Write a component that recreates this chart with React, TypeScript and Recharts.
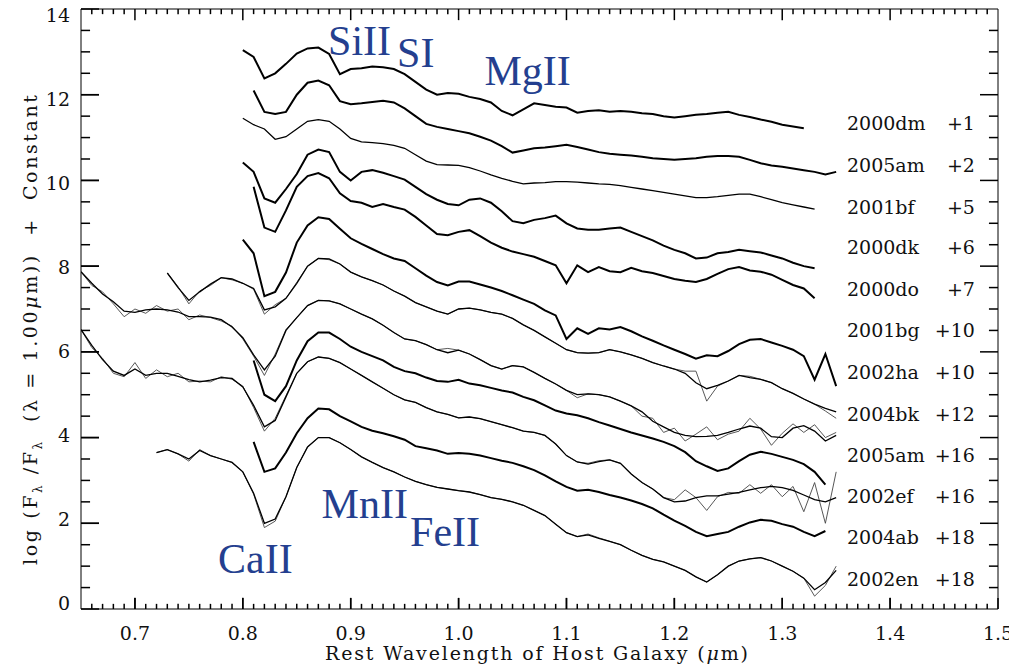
import { LineChart, Line, XAxis, YAxis, ReferenceDot, ReferenceLine, Label } from "recharts";

// wavelength grid in micron, every spectrum below is sampled on it
const WAVE = [
  0.65, 0.66, 0.67, 0.68, 0.69, 0.7, 0.71, 0.72, 0.73, 0.74, 0.75, 0.76, 0.77, 0.78, 0.79,
  0.8, 0.81, 0.82, 0.83, 0.84, 0.85, 0.86, 0.87, 0.88, 0.89, 0.9, 0.91, 0.92, 0.93, 0.94,
  0.95, 0.96, 0.97, 0.98, 0.99, 1.0, 1.01, 1.02, 1.03, 1.04, 1.05, 1.06, 1.07, 1.08, 1.09,
  1.1, 1.11, 1.12, 1.13, 1.14, 1.15, 1.16, 1.17, 1.18, 1.19, 1.2, 1.21, 1.22, 1.23, 1.24,
  1.25, 1.26, 1.27, 1.28, 1.29, 1.3, 1.31, 1.32, 1.33, 1.34, 1.35,
];

// log(F / F(1.00um)) + constant, starting at the wavelength given in SPECTRA
const SN2000DM = [
  13.04, 12.88, 12.38, 12.5, 12.72, 12.96, 13.08, 13.1, 12.95, 12.48,
  12.6, 12.62, 12.66, 12.64, 12.6, 12.48, 12.3, 12.12, 12.0, 12.04,
  12.02, 11.95, 11.9, 11.82, 11.62, 11.52, 11.66, 11.8, 11.76, 11.72,
  11.7, 11.58, 11.62, 11.64, 11.6, 11.62, 11.6, 11.57, 11.55, 11.5,
  11.47, 11.5, 11.53, 11.55, 11.58, 11.6, 11.53, 11.48, 11.42, 11.37,
  11.3, 11.26, 11.22,
];
const SN2005AM_2 = [
  12.1, 11.6, 11.55, 11.6, 12.0, 12.28, 12.33, 12.22, 11.85,
  11.78, 11.8, 11.83, 11.86, 11.82, 11.68, 11.5, 11.32, 11.25, 11.2,
  11.15, 11.1, 11.02, 10.93, 10.8, 10.65, 10.7, 10.75, 10.77, 10.8,
  10.83, 10.78, 10.72, 10.66, 10.62, 10.6, 10.58, 10.55, 10.52, 10.5,
  10.48, 10.5, 10.52, 10.55, 10.57, 10.57, 10.55, 10.48, 10.4, 10.35,
  10.32, 10.28, 10.24, 10.2, 10.14, 10.2,
];
const SN2001BF = [
  11.45, 11.3, 11.2, 10.96, 11.02, 11.2, 11.38, 11.42, 11.38, 11.2,
  10.98, 10.9, 10.88, 10.86, 10.82, 10.75, 10.6, 10.45, 10.37, 10.36,
  10.35, 10.3, 10.22, 10.13, 10.05, 9.98, 9.92, 9.94, 9.95, 9.97,
  9.97, 9.96, 9.94, 9.92, 9.91, 9.88, 9.84, 9.8, 9.76, 9.72,
  9.68, 9.64, 9.6, 9.6, 9.62, 9.65, 9.68, 9.68, 9.62, 9.55,
  9.48, 9.43, 9.38, 9.33,
];
const SN2000DK = [
  10.42, 10.2, 9.58, 9.48, 9.8, 10.15, 10.6, 10.72, 10.66, 10.2,
  10.0, 10.2, 10.24, 10.18, 10.1, 10.02, 9.85, 9.68, 9.55, 9.45,
  9.42, 9.55, 9.58, 9.48, 9.28, 9.05, 9.0, 9.08, 9.12, 9.18,
  9.0, 8.88, 8.85, 8.85, 8.88, 8.9, 8.8, 8.7, 8.6, 8.48,
  8.38, 8.3, 8.18, 8.2, 8.3, 8.33, 8.38, 8.35, 8.32, 8.25,
  8.18, 8.08, 8.0, 7.95,
];
const SN2000DO = [
  9.85, 8.9, 8.8, 9.3, 9.85, 10.1, 10.17, 10.05, 9.7,
  9.52, 9.48, 9.38, 9.45, 9.38, 9.32, 9.15, 8.95, 8.75, 8.72,
  8.8, 8.84, 8.7, 8.55, 8.43, 8.34, 8.28, 8.22, 8.12, 8.02,
  7.6, 8.02, 7.86, 7.98, 7.88, 7.86, 7.96, 7.88, 7.84, 7.77,
  7.7, 7.66, 7.63, 7.7, 7.82, 7.93, 7.98, 7.9, 7.87, 7.8,
  7.68, 7.56, 7.48, 7.25,
];
const SN2001BG = [
  8.62, 8.3, 7.3, 7.4, 7.85, 8.55, 8.95, 9.14, 9.1, 8.87,
  8.65, 8.52, 8.4, 8.28, 8.18, 8.12, 7.95, 7.78, 7.63, 7.55,
  7.64, 7.64, 7.57, 7.5, 7.42, 7.32, 7.22, 7.12, 6.97, 6.85,
  6.3, 6.55, 6.42, 6.55, 6.52, 6.58, 6.48, 6.36, 6.26, 6.15,
  6.05, 5.95, 5.84, 5.92, 5.9, 6.02, 6.18, 6.28, 6.3, 6.22,
  6.14, 6.05, 5.9, 5.35, 5.95, 5.2,
];
const SN2002HA = [
  7.84, 7.5, 7.2, 7.4, 7.58, 7.73, 7.7,
  7.6, 7.48, 6.98, 7.05, 7.25, 7.6, 8.0, 8.18, 8.17, 8.05,
  7.86, 7.75, 7.66, 7.56, 7.42, 7.3, 7.15, 7.05, 6.95, 6.88,
  7.0, 7.02, 6.98, 6.92, 6.88, 6.78, 6.63, 6.5, 6.35, 6.2,
  6.05, 5.98, 5.97, 5.98, 6.05, 6.0, 5.93, 5.85, 5.75, 5.67,
  5.6, 5.5, 5.28, 5.14, 5.22, 5.32, 5.45, 5.4, 5.36, 5.28,
  5.14, 5.03, 4.9, 4.78, 4.68, 4.6,
];
const SN2004BK = [
  7.87, 7.6, 7.35, 7.17, 6.95,
  6.92, 6.98, 7.0, 6.98, 6.93, 6.82, 6.82, 6.81, 6.75, 6.58,
  6.33, 5.93, 5.58, 5.9, 6.5, 6.8, 7.08, 7.2, 7.19, 7.12,
  7.0, 6.88, 6.77, 6.62, 6.45, 6.3, 6.26, 6.17, 6.05, 5.98,
  6.04, 5.95, 5.82, 5.68, 5.6, 5.68, 5.65, 5.52, 5.38, 5.25,
  5.1, 5.0, 5.02, 5.0, 4.95, 4.85, 4.74, 4.6, 4.38, 4.25,
  4.12, 4.05, 4.02, 4.03, 4.05, 4.12, 4.2, 4.27, 4.22, 4.02,
  4.0, 4.22, 4.28, 4.15, 3.92, 4.05,
];
const SN2005AM_16 = [
  5.8, 5.0, 4.85, 5.2, 5.8, 6.25, 6.45, 6.45, 6.3,
  6.12, 6.0, 5.9, 5.8, 5.65, 5.55, 5.5, 5.4, 5.32, 5.3,
  5.35, 5.26, 5.22, 5.16, 5.1, 5.05, 4.95, 4.87, 4.75, 4.63,
  4.56, 4.52, 4.45, 4.36, 4.28, 4.2, 4.12, 4.05, 3.98, 3.9,
  3.8, 3.66, 3.45, 3.33, 3.22, 3.28, 3.45, 3.6, 3.67, 3.62,
  3.55, 3.48, 3.38, 3.2, 2.9,
];
const SN2002EF = [
  6.52, 6.15, 5.82, 5.55, 5.45,
  5.6, 5.45, 5.5, 5.5, 5.43, 5.35, 5.3, 5.34, 5.4, 5.38,
  5.18, 4.75, 4.25, 4.4, 4.95, 5.5, 5.77, 5.88, 5.85, 5.75,
  5.6, 5.45, 5.3, 5.15, 5.0, 4.88, 4.82, 4.7, 4.6, 4.54,
  4.46, 4.48, 4.44, 4.37, 4.3, 4.23, 4.15, 4.12, 4.05, 3.85,
  3.58, 3.43, 3.38, 3.44, 3.48, 3.4, 3.15, 2.95, 2.8, 2.6,
  2.5, 2.52, 2.6, 2.64, 2.64, 2.68, 2.72, 2.78, 2.83, 2.86,
  2.83, 2.77, 2.66, 2.55, 2.5, 2.6,
];
const SN2004AB = [
  3.9, 3.2, 3.28, 3.65, 4.1, 4.45, 4.68, 4.66, 4.5,
  4.38, 4.25, 4.16, 4.1, 4.03, 3.95, 3.8, 3.75, 3.7, 3.62,
  3.64, 3.62, 3.58, 3.52, 3.46, 3.41, 3.33, 3.24, 3.12, 2.98,
  2.85, 2.76, 2.78, 2.73, 2.66, 2.6, 2.53, 2.45, 2.35, 2.2,
  2.06, 1.94, 1.8, 1.7, 1.75, 1.8, 1.92, 2.02, 2.08, 2.06,
  1.98, 1.92, 1.8, 1.7, 1.82,
];
const SN2002EN = [
  3.65, 3.72, 3.62, 3.5, 3.7, 3.58, 3.5, 3.42,
  3.2, 2.7, 2.0, 2.1, 2.62, 3.3, 3.78, 4.0, 4.0, 3.88,
  3.72, 3.55, 3.42, 3.3, 3.2, 3.08, 2.98, 2.9, 2.84, 2.8,
  2.76, 2.73, 2.67, 2.6, 2.56, 2.5, 2.42, 2.3, 2.18, 1.98,
  1.78, 1.69, 1.73, 1.65, 1.58, 1.5, 1.37, 1.25, 1.16, 1.1,
  1.0, 0.9, 0.75, 0.63, 0.8, 1.0, 1.12, 1.17, 1.2, 1.12,
  1.0, 0.88, 0.72, 0.45, 0.62, 0.9,
];

// coarser comparison spectra drawn as thin lines over the smooth ones
const FIT2002HA = [
  7.84, 7.52, 7.12, 7.42, 7.55, 7.73, 7.68,
  7.6, 7.46, 6.88, 7.1, 7.25, 7.62, 8.0, 8.18, 8.15, 8.05,
  7.86, 7.75, 7.66, 7.56, 7.42, 7.3, 7.15, 7.05, 6.95, 6.88,
  7.0, 7.02, 6.98, 6.92, 6.88, 6.78, 6.63, 6.5, 6.35, 6.2,
  6.05, 5.98, 5.97, 5.98, 6.05, 6.0, 5.93, 5.85, 5.75, 5.67,
  5.6, 5.55, 5.55, 4.85, 5.2, 5.32, 5.45, 5.43, 5.36, 5.28,
  5.14, 5.03, 4.9, 4.78, 4.62, 4.45,
];
const FIT2004BK = [
  7.87, 7.55, 7.4, 7.12, 6.82,
  7.0, 6.9, 7.08, 6.95, 7.0, 6.75, 6.86, 6.8, 6.72, 6.6,
  6.3, 5.9, 5.45, 5.95, 6.52, 6.8, 7.08, 7.2, 7.19, 7.12,
  7.0, 6.88, 6.77, 6.62, 6.45, 6.3, 6.26, 6.17, 6.05, 6.08,
  6.04, 5.95, 5.82, 5.68, 5.6, 5.68, 5.65, 5.52, 5.38, 5.25,
  5.1, 4.93, 5.02, 5.0, 4.95, 4.85, 4.74, 4.5, 4.45, 4.12,
  4.22, 3.92, 4.08, 4.25, 3.95, 4.08, 4.15, 4.45, 4.2, 3.82,
  4.1, 4.32, 4.12, 4.3, 4.0, 4.12,
];
const FIT2002EF = [
  6.52, 6.1, 5.85, 5.5, 5.42,
  5.75, 5.38, 5.58, 5.42, 5.5, 5.3, 5.32, 5.3, 5.42, 5.36,
  5.2, 4.7, 4.15, 4.45, 4.98, 5.5, 5.77, 5.88, 5.85, 5.75,
  5.6, 5.45, 5.3, 5.15, 5.0, 4.88, 4.82, 4.7, 4.6, 4.54,
  4.46, 4.48, 4.44, 4.37, 4.3, 4.23, 4.15, 4.12, 4.05, 3.85,
  3.58, 3.43, 3.4, 3.46, 3.48, 3.4, 3.15, 2.95, 2.8, 2.6,
  2.55, 2.78, 2.6, 2.3, 2.62, 2.72, 2.7, 2.9, 2.7, 2.9,
  2.62, 2.86, 2.27, 2.95, 2.0, 3.2,
];
const FIT2002EN = [
  3.65, 3.72, 3.62, 3.45, 3.72, 3.58, 3.5, 3.42,
  3.2, 2.68, 1.9, 2.05, 2.62, 3.3, 3.78, 4.0, 4.0, 3.88,
  3.72, 3.55, 3.42, 3.3, 3.2, 3.08, 2.98, 2.9, 2.84, 2.8,
  2.76, 2.73, 2.67, 2.6, 2.56, 2.5, 2.42, 2.3, 2.18, 1.98,
  1.78, 1.69, 1.75, 1.66, 1.58, 1.5, 1.37, 1.25, 1.16, 1.1,
  1.0, 0.9, 0.75, 0.63, 0.8, 1.0, 1.12, 1.17, 1.2, 1.12,
  1.0, 0.88, 0.72, 0.3, 0.55, 1.0,
];

const SPECTRA = [
  { name: "2000dm", phase: "+1", from: 0.8, flux: SN2000DM, noisy: true },
  { name: "2005am", phase: "+2", from: 0.81, flux: SN2005AM_2, noisy: true },
  { name: "2001bf", phase: "+5", from: 0.8, flux: SN2001BF, noisy: false },
  { name: "2000dk", phase: "+6", from: 0.8, flux: SN2000DK, noisy: true },
  { name: "2000do", phase: "+7", from: 0.81, flux: SN2000DO, noisy: true },
  { name: "2001bg", phase: "+10", from: 0.8, flux: SN2001BG, noisy: true },
  { name: "2002ha", phase: "+10", from: 0.73, flux: SN2002HA, noisy: false },
  { name: "2004bk", phase: "+12", from: 0.65, flux: SN2004BK, noisy: false },
  { name: "2005am", phase: "+16", from: 0.81, flux: SN2005AM_16, noisy: true },
  { name: "2002ef", phase: "+16", from: 0.65, flux: SN2002EF, noisy: false },
  { name: "2004ab", phase: "+18", from: 0.81, flux: SN2004AB, noisy: true },
  { name: "2002en", phase: "+18", from: 0.72, flux: SN2002EN, noisy: false },
];

const FITS = [
  { from: 0.73, flux: FIT2002HA },
  { from: 0.65, flux: FIT2004BK },
  { from: 0.65, flux: FIT2002EF },
  { from: 0.72, flux: FIT2002EN },
];

// vertical position of each "name  phase" tag on the right
const TAG_Y = [11.34, 10.36, 9.38, 8.45, 7.46, 6.5, 5.52, 4.56, 3.6, 2.64, 1.68, 0.7];

const IONS = [
  { text: "SiII", w: 0.879, f: 12.93 },
  { text: "SI", w: 0.943, f: 12.65 },
  { text: "MgII", w: 1.024, f: 12.23 },
  { text: "CaII", w: 0.777, f: 0.85 },
  { text: "MnII", w: 0.873, f: 2.13 },
  { text: "FeII", w: 0.955, f: 1.46 },
];

const X_MIN = 0.65;
const X_MAX = 1.5;
const Y_MIN = 0;
const Y_MAX = 14;
const X_MINOR = Array.from({ length: 84 }, (_, i) => (66 + i) / 100);
const Y_MINOR = Array.from({ length: 27 }, (_, i) => (i + 1) / 2);
const X_MAJOR = [0.7, 0.8, 0.9, 1.0, 1.1, 1.2, 1.3, 1.4, 1.5];
const Y_MAJOR = [0, 2, 4, 6, 8, 10, 12, 14];

const FONT = "'DejaVu Serif', serif";
const INK = "#000";
const ION_BLUE = "#243f8f";

const spectrum = (from: number, flux: number[]) => {
  const start = WAVE.indexOf(from);
  return flux.map((f, i) => ({ w: WAVE[start + i], f }));
};

const isTenth = (v: number) => Math.abs(v * 10 - Math.round(v * 10)) < 1e-6;
const isEven = (v: number) => Math.abs(v / 2 - Math.round(v / 2)) < 1e-6;

// inward frame marks as two-point runs in data units (x: 0.26 / 0.12, y: 0.0167 / 0.0084)
const xLen = (v: number) => (isTenth(v) ? 0.26 : 0.12);
const yLen = (v: number) => (isEven(v) ? 0.0167 : 0.0084);
const FRAME_MARKS = [
  ...X_MINOR.filter((v) => v < X_MAX - 1e-6).flatMap((v) => [
    [{ w: v, f: Y_MIN }, { w: v, f: Y_MIN + xLen(v) }],
    [{ w: v, f: Y_MAX }, { w: v, f: Y_MAX - xLen(v) }],
  ]),
  ...Y_MINOR.flatMap((v) => [
    [{ w: X_MIN, f: v }, { w: X_MIN + yLen(v), f: v }],
    [{ w: X_MAX, f: v }, { w: X_MAX - yLen(v), f: v }],
  ]),
];

function BottomLabel({ x, y, payload }: any) {
  return (
    <text x={x} y={y + 31} textAnchor="middle" fontFamily={FONT} fontSize={19} fill="#111">
      {Number(payload.value).toFixed(1)}
    </text>
  );
}

function LeftLabel({ x, y, payload }: any) {
  const v = Number(payload.value);
  return (
    <text x={x - 11} y={y + 0.5 + 0.86 * v} textAnchor="end" fontFamily={FONT} fontSize={19} fill="#111">
      {v}
    </text>
  );
}

function XTitle({ viewBox }: any) {
  return (
    <text
      x={viewBox.x + viewBox.width / 2 - 3}
      y={viewBox.y + 51}
      textAnchor="middle"
      fontFamily={FONT}
      fontSize={19}
      fill="#111"
      textLength={423}
      lengthAdjust="spacing"
    >
      Rest Wavelength of Host Galaxy (<tspan fontStyle="italic">μ</tspan>m)
    </text>
  );
}

function YTitle({ viewBox }: any) {
  const cx = viewBox.x + 16;
  const cy = viewBox.y + 321;
  return (
    <text
      x={cx}
      y={cy}
      transform={`rotate(-90, ${cx}, ${cy})`}
      textAnchor="middle"
      fontFamily={FONT}
      fontSize={19}
      fill="#111"
      textLength={470}
      lengthAdjust="spacing"
      style={{ whiteSpace: "pre" }}
    >
      {"log (F"}
      <tspan fontSize={12} dy={5}>λ</tspan>
      <tspan dy={-5}>{" /F"}</tspan>
      <tspan fontSize={12} dy={5}>λ</tspan>
      <tspan dy={-5}>{"  (λ = 1.00"}</tspan>
      <tspan fontStyle="italic">μ</tspan>
      {"m))  +  Constant"}
    </text>
  );
}

const tagLabel = (name: string, phase: string) => ({ viewBox }: any) => (
  <g fontFamily={FONT} fontSize={19} fill="#111">
    <text x={viewBox.x} y={viewBox.y + 7}>{name}</text>
    <text x={viewBox.x + 128} y={viewBox.y + 7} textAnchor="end">{phase}</text>
  </g>
);

const ionLabel = (text: string) => ({ viewBox }: any) => (
  <text x={viewBox.x} y={viewBox.y} fontFamily="'Liberation Serif', serif" fontSize={42} fill={ION_BLUE}>
    {text}
  </text>
);

const axisIds = { xAxisId: "x", yAxisId: "y" };
const tickStroke = { stroke: INK, strokeWidth: 1.5 };

export default function App() {
  return (
    <div style={{ marginTop: -8 }}>
      <LineChart width={1009} height={668} margin={{ top: 9, right: 19, bottom: 9, left: 13 }}>
        <XAxis
          xAxisId="x"
          type="number"
          dataKey="w"
          domain={[X_MIN, X_MAX]}
          allowDataOverflow
          ticks={X_MAJOR}
          interval={0}
          tickSize={-11}
          tickMargin={11}
          tickLine={tickStroke}
          tick={<BottomLabel />}
          stroke={INK}
          height={50}
        >
          <Label content={<XTitle />} />
        </XAxis>
        <YAxis
          yAxisId="y"
          type="number"
          domain={[Y_MIN, Y_MAX]}
          allowDataOverflow
          ticks={Y_MAJOR}
          interval={0}
          tickSize={-18}
          tickMargin={18}
          tickLine={tickStroke}
          tick={<LeftLabel />}
          stroke={INK}
          width={60}
        >
          <Label content={<YTitle />} />
        </YAxis>

        {/* frame top and right */}
        <ReferenceLine {...axisIds} y={Y_MAX} stroke={INK} />
        <ReferenceLine {...axisIds} x={X_MAX} stroke={INK} />

        {FRAME_MARKS.map((mark, i) => (
          <Line
            key={`mark-${i}`}
            {...axisIds}
            data={mark}
            dataKey="f"
            type="linear"
            stroke={INK}
            strokeWidth={1.5}
            dot={false}
            activeDot={false}
            legendType="none"
            isAnimationActive={false}
          />
        ))}

        {FITS.map((s, i) => (
          <Line
            key={`fit-${i}`}
            {...axisIds}
            data={spectrum(s.from, s.flux)}
            dataKey="f"
            type="linear"
            stroke="#444"
            strokeWidth={0.9}
            dot={false}
            activeDot={false}
            isAnimationActive={false}
          />
        ))}
        {SPECTRA.map((s, i) => (
          <Line
            key={`sn-${i}`}
            {...axisIds}
            data={spectrum(s.from, s.flux)}
            dataKey="f"
            name={`${s.name} ${s.phase}`}
            type="linear"
            stroke="#000"
            strokeWidth={s.noisy ? 2 : 1.3}
            dot={false}
            activeDot={false}
            isAnimationActive={false}
          />
        ))}

        {SPECTRA.map((s, i) => (
          <ReferenceDot
            key={`tag-${i}`}
            {...axisIds}
            x={1.36}
            y={TAG_Y[i]}
            r={0}
            fill="none"
            stroke="none"
            label={{ content: tagLabel(s.name, s.phase) }}
          />
        ))}
        {IONS.map((ion) => (
          <ReferenceDot
            key={ion.text}
            {...axisIds}
            x={ion.w}
            y={ion.f}
            r={0}
            fill="none"
            stroke="none"
            label={{ content: ionLabel(ion.text) }}
          />
        ))}
      </LineChart>
    </div>
  );
}
